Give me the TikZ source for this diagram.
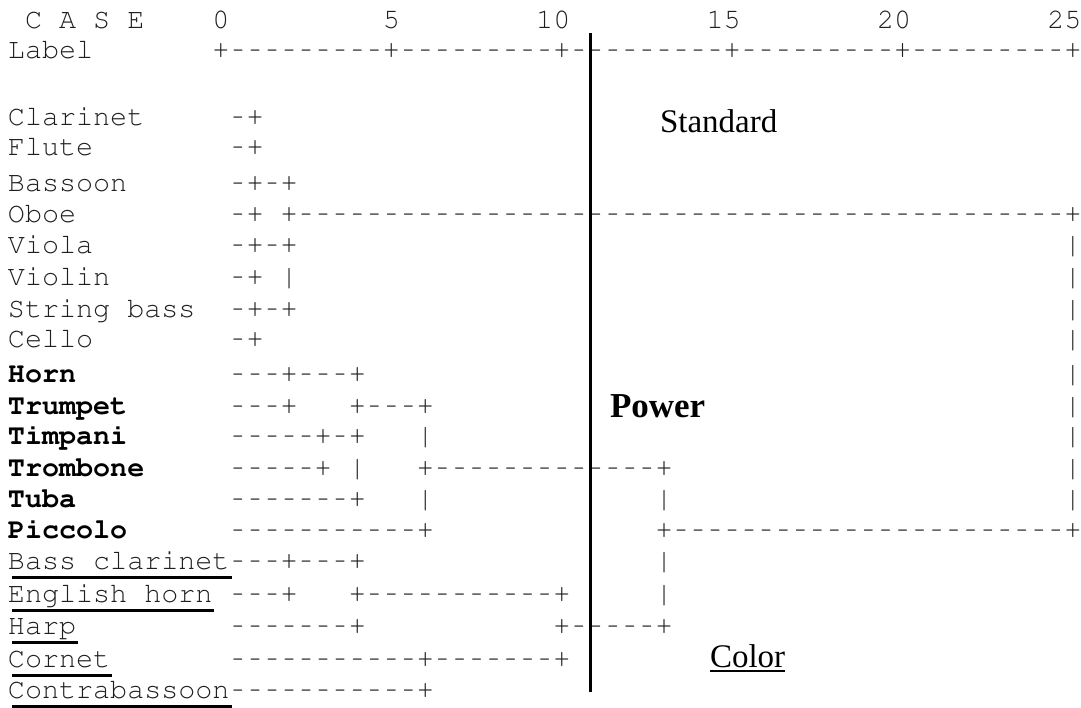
\documentclass[tikz,border=0pt]{standalone}
\usepackage[T1]{fontenc}
\usepackage{fontspec}
\usepackage{graphicx}
\newfontfamily\serifface{Liberation Serif}
\usetikzlibrary{calc}
\newcommand\h{\makebox[0.6em][c]{\scalebox{0.68}[1]{-}}}
\ExplSyntaxOn
\cs_new:Npn \dashes #1 { \prg_replicate:nn {#1} { \h } }
\ExplSyntaxOff
\newcommand\C[1]{8+17.04*#1}
\newcommand\courierfont{\fontencoding{T1}\fontfamily{pcr}\fontsize{28.4}{30}\selectfont}
\tikzset{
  mono/.style={anchor=base west, inner sep=0pt, outer sep=0pt,
    font=\courierfont, text=black!88},
  monob/.style={mono, font=\courierfont\bfseries, text=black},
  ulab/.style={line width=2.8pt, black},
  word/.style={anchor=base west, inner sep=0pt, outer sep=0pt,
    font=\fontsize{33}{36}\selectfont\serifface, text=black},
  wordb/.style={word, font=\fontsize{35}{38}\selectfont\serifface\bfseries},
  divider/.style={line width=3pt, black}
}
\begin{document}
\begin{tikzpicture}[x=1pt,y=-1pt]
\useasboundingbox[fill=white] (0,0) rectangle (1081,707);
% header
\node[mono] (case) at ({\C{1}},28) {C~A~S~E};
\node[mono] (n0)  at ({\C{12}},28) {0};
\node[mono] (n5)  at ({\C{22}},28) {5};
\node[mono] (n10) at ({\C{31}},28) {10};
\node[mono] (n15) at ({\C{41}},28) {15};
\node[mono] (n20) at ({\C{51}},28) {20};
\node[mono] (n25) at ({\C{61}},28) {25};
\node[mono] (lab) at ({\C{0}},58) {Label};
\node[mono] (axis) at ({\C{12}},58) {+\dashes{9}+\dashes{9}+\dashes{9}+\dashes{9}+\dashes{9}+};
% woodwinds and strings
\node[mono] (clar) at ({\C{0}},125) {Clarinet};
\node[mono] (clard) at ({\C{13}},125) {\h+};
\node[mono] (flut) at ({\C{0}},155) {Flute};
\node[mono] (flutd) at ({\C{13}},155) {\h+};
\node[mono] (bass) at ({\C{0}},191) {Bassoon};
\node[mono] (bassd) at ({\C{13}},191) {\h+\h+};
\node[mono] (oboe) at ({\C{0}},222) {Oboe};
\node[mono] (oboed) at ({\C{13}},222) {\h+~+\dashes{45}+};
\node[mono] (viola) at ({\C{0}},253) {Viola};
\node[mono] (violad) at ({\C{13}},253) {\h+\h+};
\node[mono] (violar) at ({\C{62}},253) {|};
\node[mono] (violi) at ({\C{0}},285) {Violin};
\node[mono] (violid) at ({\C{13}},285) {\h+~|};
\node[mono] (violir) at ({\C{62}},285) {|};
\node[mono] (sb) at ({\C{0}},317) {String~bass};
\node[mono] (sbd) at ({\C{13}},317) {\h+\h+};
\node[mono] (sbr) at ({\C{62}},317) {|};
\node[mono] (cello) at ({\C{0}},347) {Cello};
\node[mono] (cellod) at ({\C{13}},347) {\h+};
\node[mono] (cellor) at ({\C{62}},347) {|};
% brass (bold)
\node[monob] (horn) at ({\C{0}},382) {Horn};
\node[mono] (hornd) at ({\C{13}},382) {\dashes{3}+\dashes{3}+};
\node[mono] (hornr) at ({\C{62}},382) {|};
\node[monob] (trum) at ({\C{0}},414) {Trumpet};
\node[mono] (trumd) at ({\C{13}},414) {\dashes{3}+~~~+\dashes{3}+};
\node[mono] (trumr) at ({\C{62}},414) {|};
\node[monob] (timp) at ({\C{0}},444) {Timpani};
\node[mono] (timpd) at ({\C{13}},444) {\dashes{5}+\h+~~~|};
\node[mono] (timpr) at ({\C{62}},444) {|};
\node[monob] (trom) at ({\C{0}},476) {Trombone};
\node[mono] (tromd) at ({\C{13}},476) {\dashes{5}+~|~~~+\dashes{13}+};
\node[mono] (tromr) at ({\C{62}},476) {|};
\node[monob] (tuba) at ({\C{0}},507) {Tuba};
\node[mono] (tubad) at ({\C{13}},507) {\dashes{7}+~~~|};
\node[mono] (tubam) at ({\C{38}},507) {|};
\node[mono] (tubar) at ({\C{62}},507) {|};
\node[monob] (picc) at ({\C{0}},538) {Piccolo};
\node[mono] (piccd) at ({\C{13}},538) {\dashes{11}+};
\node[mono] (piccr) at ({\C{38}},538) {+\dashes{23}+};
% color group (underlined)
\node[mono] (bcl) at ({\C{0}},569) {Bass~clarinet};
\node[mono] (bcld) at ({\C{13}},569) {\dashes{3}+\dashes{3}+};
\node[mono] (bclm) at ({\C{38}},569) {|};
\node[mono] (eh) at ({\C{0}},602) {English~horn};
\node[mono] (ehd) at ({\C{13}},602) {\dashes{3}+~~~+\dashes{11}+};
\node[mono] (ehm) at ({\C{38}},602) {|};
\node[mono] (harp) at ({\C{0}},634) {Harp};
\node[mono] (harpd) at ({\C{13}},634) {\dashes{7}+};
\node[mono] (harpm) at ({\C{32}},634) {+\dashes{5}+};
\node[mono] (corn) at ({\C{0}},667) {Cornet};
\node[mono] (cornd) at ({\C{13}},667) {\dashes{11}+\dashes{7}+};
\node[mono] (cb) at ({\C{0}},698) {Contrabassoon};
\node[mono] (cbd) at ({\C{13}},698) {\dashes{11}+};
\foreach \n in {bcl,eh,harp,corn,cb}
  \draw[ulab] ($(\n.base west)+(4,8.5)$) -- ($(\n.base east)+(2,8.5)$);
% group words
\node[word] (std) at (660,132) {Standard};
\node[wordb] (pow) at (610,417) {Power};
\node[word] (col) at (710,667) {Color};
\draw[line width=2.5pt] ($(col.base west)+(0,4)$) -- ($(col.base east)+(0,4)$);
% divider
\coordinate (dtop) at (590,33);
\coordinate (dbot) at (590,692);
\draw[divider] (dtop) -- (dbot);
\end{tikzpicture}
\end{document}
